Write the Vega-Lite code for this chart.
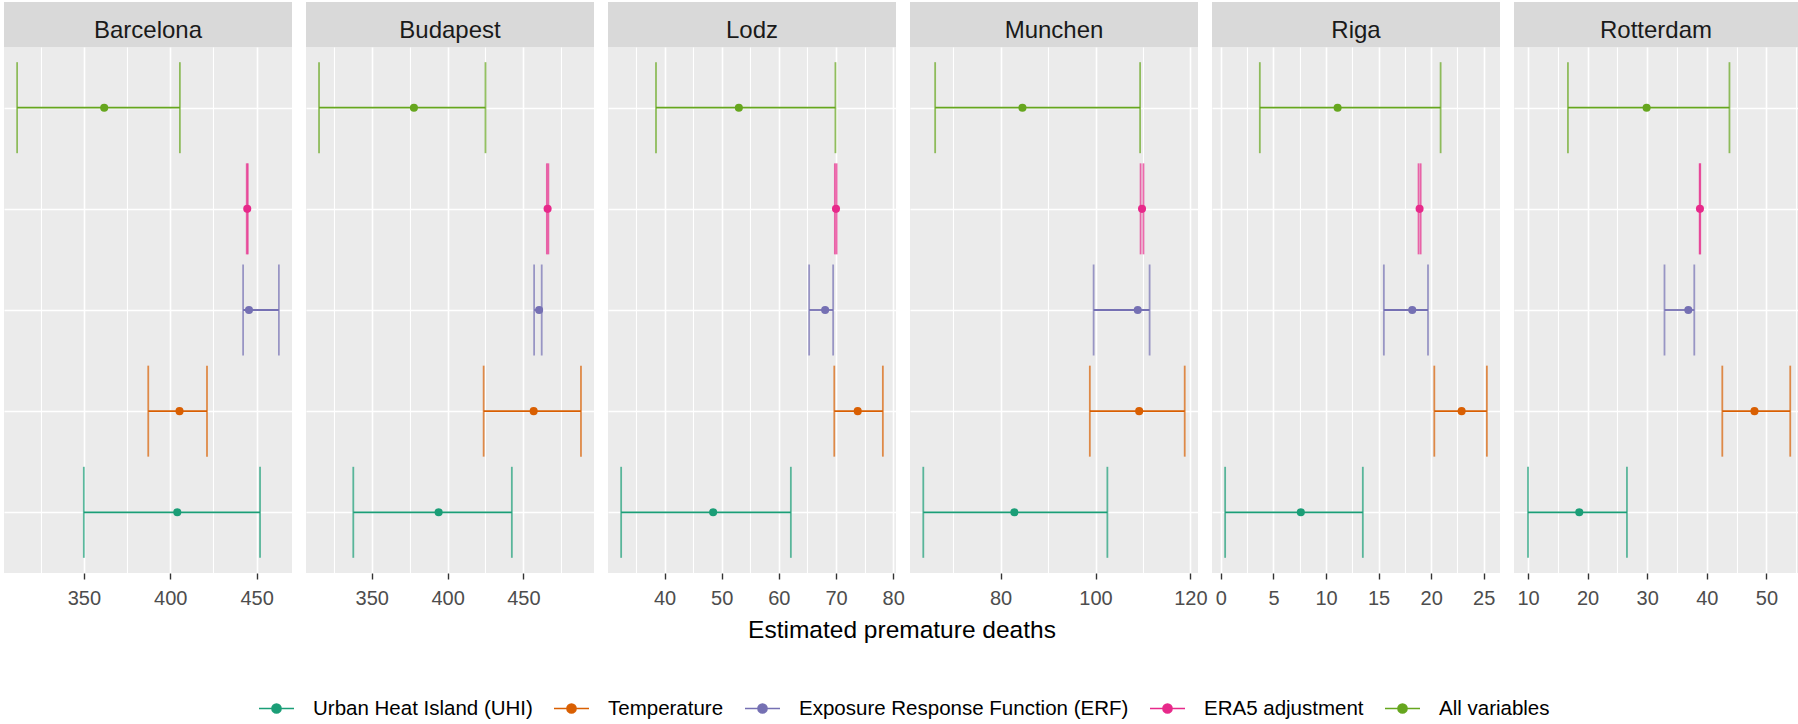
{
  "$schema": "https://vega.github.io/schema/vega-lite/v6.json",
  "padding": {"left": 4, "top": 2, "right": 0, "bottom": 0},
  "background": "white",
  "config": {
    "font": "Liberation Sans",
    "view": {"stroke": null},
    "axisX": {
      "domain": false,
      "gridColor": "white",
      "tickColor": "#333333",
      "tickWidth": 1.4,
      "tickSize": 6,
      "tickCount": 100,
      "labelColor": "#4D4D4D",
      "labelFontSize": 20,
      "labelPadding": 9,
      "labelFlush": false,
      "labelOverlap": false,
      "labelBound": false
    },
    "legend": {
      "orient": "none",
      "legendX": 254,
      "legendY": 688,
      "direction": "horizontal",
      "title": null,
      "labelFontSize": 20.5,
      "labelLimit": 0,
      "labelColor": "#000000",
      "symbolType": "M-1,0H1M-0.26,0A0.26,0.26,0,1,1,0.26,0A0.26,0.26,0,1,1,-0.26,0Z",
      "symbolSize": 1225,
      "symbolStrokeWidth": 1.6,
      "labelOffset": 18,
      "columnPadding": 17
    }
  },
  "data": {
    "values": [
      {"city": "Barcelona", "measure": "All variables", "low": 311.4, "est": 361.8, "high": 405.6},
      {"city": "Barcelona", "measure": "ERA5 adjustment", "low": 444.3, "est": 444.6, "high": 444.9},
      {"city": "Barcelona", "measure": "Exposure Response Function (ERF)", "low": 442.2, "est": 445.6, "high": 462.9},
      {"city": "Barcelona", "measure": "Temperature", "low": 387.3, "est": 405.4, "high": 421.3},
      {"city": "Barcelona", "measure": "Urban Heat Island (UHI)", "low": 350.0, "est": 404.1, "high": 452.0},
      {"city": "Budapest", "measure": "All variables", "low": 315.2, "est": 377.8, "high": 425.0},
      {"city": "Budapest", "measure": "ERA5 adjustment", "low": 465.5, "est": 466.0, "high": 466.5},
      {"city": "Budapest", "measure": "Exposure Response Function (ERF)", "low": 457.1, "est": 460.4, "high": 462.1},
      {"city": "Budapest", "measure": "Temperature", "low": 423.8, "est": 456.8, "high": 488.0},
      {"city": "Budapest", "measure": "Urban Heat Island (UHI)", "low": 337.8, "est": 394.1, "high": 442.4},
      {"city": "Lodz", "measure": "All variables", "low": 38.5, "est": 53.0, "high": 69.9},
      {"city": "Lodz", "measure": "ERA5 adjustment", "low": 69.8, "est": 70.0, "high": 70.1},
      {"city": "Lodz", "measure": "Exposure Response Function (ERF)", "low": 65.3, "est": 68.1, "high": 69.5},
      {"city": "Lodz", "measure": "Temperature", "low": 69.7, "est": 73.8, "high": 78.2},
      {"city": "Lodz", "measure": "Urban Heat Island (UHI)", "low": 32.4, "est": 48.5, "high": 62.1},
      {"city": "Munchen", "measure": "All variables", "low": 66.2, "est": 84.6, "high": 109.4},
      {"city": "Munchen", "measure": "ERA5 adjustment", "low": 109.5, "est": 109.8, "high": 110.1},
      {"city": "Munchen", "measure": "Exposure Response Function (ERF)", "low": 99.6, "est": 108.9, "high": 111.4},
      {"city": "Munchen", "measure": "Temperature", "low": 98.8, "est": 109.2, "high": 118.8},
      {"city": "Munchen", "measure": "Urban Heat Island (UHI)", "low": 63.7, "est": 82.9, "high": 102.5},
      {"city": "Riga", "measure": "All variables", "low": 3.7, "est": 11.1, "high": 20.9},
      {"city": "Riga", "measure": "ERA5 adjustment", "low": 18.8, "est": 18.9, "high": 19.0},
      {"city": "Riga", "measure": "Exposure Response Function (ERF)", "low": 15.5, "est": 18.2, "high": 19.7},
      {"city": "Riga", "measure": "Temperature", "low": 20.3, "est": 22.9, "high": 25.3},
      {"city": "Riga", "measure": "Urban Heat Island (UHI)", "low": 0.4, "est": 7.6, "high": 13.5},
      {"city": "Rotterdam", "measure": "All variables", "low": 16.7, "est": 29.9, "high": 43.8},
      {"city": "Rotterdam", "measure": "ERA5 adjustment", "low": 38.8, "est": 38.85, "high": 38.9},
      {"city": "Rotterdam", "measure": "Exposure Response Function (ERF)", "low": 32.9, "est": 36.9, "high": 37.9},
      {"city": "Rotterdam", "measure": "Temperature", "low": 42.6, "est": 48.0, "high": 54.0},
      {"city": "Rotterdam", "measure": "Urban Heat Island (UHI)", "low": 10.0, "est": 18.6, "high": 26.6}
    ]
  },
  "spacing": 0,
  "vconcat": [
    {
      "bounds": "flush",
      "spacing": 14,
      "hconcat": [
        {"width": 288, "height": 45, "view": {"fill": "#D9D9D9", "stroke": null},
         "transform": [{"filter": "datum.city === 'Barcelona' && datum.measure === 'All variables'"}],
         "mark": {"type": "text", "fontSize": 24, "color": "#1A1A1A", "baseline": "alphabetic", "align": "center", "dy": 13},
         "encoding": {"text": {"field": "city"}}},
        {"width": 288, "height": 45, "view": {"fill": "#D9D9D9", "stroke": null},
         "transform": [{"filter": "datum.city === 'Budapest' && datum.measure === 'All variables'"}],
         "mark": {"type": "text", "fontSize": 24, "color": "#1A1A1A", "baseline": "alphabetic", "align": "center", "dy": 13},
         "encoding": {"text": {"field": "city"}}},
        {"width": 288, "height": 45, "view": {"fill": "#D9D9D9", "stroke": null},
         "transform": [{"filter": "datum.city === 'Lodz' && datum.measure === 'All variables'"}],
         "mark": {"type": "text", "fontSize": 24, "color": "#1A1A1A", "baseline": "alphabetic", "align": "center", "dy": 13},
         "encoding": {"text": {"field": "city"}}},
        {"width": 288, "height": 45, "view": {"fill": "#D9D9D9", "stroke": null},
         "transform": [{"filter": "datum.city === 'Munchen' && datum.measure === 'All variables'"}],
         "mark": {"type": "text", "fontSize": 24, "color": "#1A1A1A", "baseline": "alphabetic", "align": "center", "dy": 13},
         "encoding": {"text": {"field": "city"}}},
        {"width": 288, "height": 45, "view": {"fill": "#D9D9D9", "stroke": null},
         "transform": [{"filter": "datum.city === 'Riga' && datum.measure === 'All variables'"}],
         "mark": {"type": "text", "fontSize": 24, "color": "#1A1A1A", "baseline": "alphabetic", "align": "center", "dy": 13},
         "encoding": {"text": {"field": "city"}}},
        {"width": 284, "height": 45, "view": {"fill": "#D9D9D9", "stroke": null},
         "transform": [{"filter": "datum.city === 'Rotterdam' && datum.measure === 'All variables'"}],
         "mark": {"type": "text", "fontSize": 24, "color": "#1A1A1A", "baseline": "alphabetic", "align": "center", "dy": 13},
         "encoding": {"text": {"field": "city"}}}
      ]
    },
    {
      "bounds": "flush",
      "spacing": 14,
      "hconcat": [
        {
          "width": 288, "height": 526,
          "view": {"fill": "#EBEBEB", "stroke": null},
          "transform": [{"filter": "datum.city === 'Barcelona'"}],
          "encoding": {
            "y": {"field": "measure", "type": "nominal", "scale": {"type": "point", "padding": 0.6, "domain": ["All variables", "ERA5 adjustment", "Exposure Response Function (ERF)", "Temperature", "Urban Heat Island (UHI)"]}, "axis": {"labels": false, "ticks": false, "domain": false, "title": null, "grid": true, "gridColor": "white", "gridWidth": 1.6}},
            "color": {"field": "measure", "type": "nominal", "scale": {"domain": ["Urban Heat Island (UHI)", "Temperature", "Exposure Response Function (ERF)", "ERA5 adjustment", "All variables"], "range": ["#1B9E77", "#D95F02", "#7570B3", "#E7298A", "#66A61E"]}, "legend": {"title": null, "encode": {"symbols": {"update": {"fill": {"scale": "color", "field": "value"}, "stroke": {"scale": "color", "field": "value"}, "strokeWidth": {"value": 1.6}, "opacity": {"value": 1}}}}}}
          },
          "layer": [
            {"mark": {"type": "rule", "strokeWidth": 1.8}, "encoding": {"x": {"field": "low", "type": "quantitative", "scale": {"domain": [303.8, 470.5], "nice": false, "zero": false}, "axis": {"title": null, "format": "d", "tickCount": 100, "values": [325, 350, 375, 400, 425, 450], "labelExpr": "datum.value % 50 === 0 ? datum.label : ''", "tickOpacity": {"condition": {"test": "datum.value % 50 === 0", "value": 1}, "value": 0}, "gridWidth": {"condition": {"test": "datum.value % 50 === 0", "value": 1.6}, "value": 1.1}}}, "x2": {"field": "high"}}},
            {"mark": {"type": "tick", "thickness": 1.8, "size": 91, "orient": "vertical"}, "encoding": {"x": {"field": "low", "type": "quantitative"}}},
            {"mark": {"type": "tick", "thickness": 1.8, "size": 91, "orient": "vertical"}, "encoding": {"x": {"field": "high", "type": "quantitative"}}},
            {"mark": {"type": "point", "filled": true, "size": 65, "opacity": 1}, "encoding": {"x": {"field": "est", "type": "quantitative"}}}
          ]
        },
        {
          "width": 288, "height": 526,
          "view": {"fill": "#EBEBEB", "stroke": null},
          "transform": [{"filter": "datum.city === 'Budapest'"}],
          "encoding": {
            "y": {"field": "measure", "type": "nominal", "scale": {"type": "point", "padding": 0.6, "domain": ["All variables", "ERA5 adjustment", "Exposure Response Function (ERF)", "Temperature", "Urban Heat Island (UHI)"]}, "axis": {"labels": false, "ticks": false, "domain": false, "title": null, "grid": true, "gridColor": "white", "gridWidth": 1.6}},
            "color": {"field": "measure", "type": "nominal", "scale": {"domain": ["Urban Heat Island (UHI)", "Temperature", "Exposure Response Function (ERF)", "ERA5 adjustment", "All variables"], "range": ["#1B9E77", "#D95F02", "#7570B3", "#E7298A", "#66A61E"]}, "legend": {"title": null, "encode": {"symbols": {"update": {"fill": {"scale": "color", "field": "value"}, "stroke": {"scale": "color", "field": "value"}, "strokeWidth": {"value": 1.6}, "opacity": {"value": 1}}}}}}
          },
          "layer": [
            {"mark": {"type": "rule", "strokeWidth": 1.8}, "encoding": {"x": {"field": "low", "type": "quantitative", "scale": {"domain": [306.6, 496.6], "nice": false, "zero": false}, "axis": {"title": null, "format": "d", "tickCount": 100, "values": [325, 350, 375, 400, 425, 450, 475], "labelExpr": "datum.value % 50 === 0 ? datum.label : ''", "tickOpacity": {"condition": {"test": "datum.value % 50 === 0", "value": 1}, "value": 0}, "gridWidth": {"condition": {"test": "datum.value % 50 === 0", "value": 1.6}, "value": 1.1}}}, "x2": {"field": "high"}}},
            {"mark": {"type": "tick", "thickness": 1.8, "size": 91, "orient": "vertical"}, "encoding": {"x": {"field": "low", "type": "quantitative"}}},
            {"mark": {"type": "tick", "thickness": 1.8, "size": 91, "orient": "vertical"}, "encoding": {"x": {"field": "high", "type": "quantitative"}}},
            {"mark": {"type": "point", "filled": true, "size": 65, "opacity": 1}, "encoding": {"x": {"field": "est", "type": "quantitative"}}}
          ]
        },
        {
          "width": 288, "height": 526,
          "view": {"fill": "#EBEBEB", "stroke": null},
          "transform": [{"filter": "datum.city === 'Lodz'"}],
          "encoding": {
            "y": {"field": "measure", "type": "nominal", "scale": {"type": "point", "padding": 0.6, "domain": ["All variables", "ERA5 adjustment", "Exposure Response Function (ERF)", "Temperature", "Urban Heat Island (UHI)"]}, "axis": {"labels": false, "ticks": false, "domain": false, "title": null, "grid": true, "gridColor": "white", "gridWidth": 1.6}},
            "color": {"field": "measure", "type": "nominal", "scale": {"domain": ["Urban Heat Island (UHI)", "Temperature", "Exposure Response Function (ERF)", "ERA5 adjustment", "All variables"], "range": ["#1B9E77", "#D95F02", "#7570B3", "#E7298A", "#66A61E"]}, "legend": {"title": null, "encode": {"symbols": {"update": {"fill": {"scale": "color", "field": "value"}, "stroke": {"scale": "color", "field": "value"}, "strokeWidth": {"value": 1.6}, "opacity": {"value": 1}}}}}}
          },
          "layer": [
            {"mark": {"type": "rule", "strokeWidth": 1.8}, "encoding": {"x": {"field": "low", "type": "quantitative", "scale": {"domain": [30.1, 80.5], "nice": false, "zero": false}, "axis": {"title": null, "format": "d", "tickCount": 100, "values": [35, 40, 45, 50, 55, 60, 65, 70, 75, 80], "labelExpr": "datum.value % 10 === 0 ? datum.label : ''", "tickOpacity": {"condition": {"test": "datum.value % 10 === 0", "value": 1}, "value": 0}, "gridWidth": {"condition": {"test": "datum.value % 10 === 0", "value": 1.6}, "value": 1.1}}}, "x2": {"field": "high"}}},
            {"mark": {"type": "tick", "thickness": 1.8, "size": 91, "orient": "vertical"}, "encoding": {"x": {"field": "low", "type": "quantitative"}}},
            {"mark": {"type": "tick", "thickness": 1.8, "size": 91, "orient": "vertical"}, "encoding": {"x": {"field": "high", "type": "quantitative"}}},
            {"mark": {"type": "point", "filled": true, "size": 65, "opacity": 1}, "encoding": {"x": {"field": "est", "type": "quantitative"}}}
          ]
        },
        {
          "width": 288, "height": 526,
          "view": {"fill": "#EBEBEB", "stroke": null},
          "transform": [{"filter": "datum.city === 'Munchen'"}],
          "encoding": {
            "y": {"field": "measure", "type": "nominal", "scale": {"type": "point", "padding": 0.6, "domain": ["All variables", "ERA5 adjustment", "Exposure Response Function (ERF)", "Temperature", "Urban Heat Island (UHI)"]}, "axis": {"labels": false, "ticks": false, "domain": false, "title": null, "grid": true, "gridColor": "white", "gridWidth": 1.6}},
            "color": {"field": "measure", "type": "nominal", "scale": {"domain": ["Urban Heat Island (UHI)", "Temperature", "Exposure Response Function (ERF)", "ERA5 adjustment", "All variables"], "range": ["#1B9E77", "#D95F02", "#7570B3", "#E7298A", "#66A61E"]}, "legend": {"title": null, "encode": {"symbols": {"update": {"fill": {"scale": "color", "field": "value"}, "stroke": {"scale": "color", "field": "value"}, "strokeWidth": {"value": 1.6}, "opacity": {"value": 1}}}}}}
          },
          "layer": [
            {"mark": {"type": "rule", "strokeWidth": 1.8}, "encoding": {"x": {"field": "low", "type": "quantitative", "scale": {"domain": [60.9, 121.6], "nice": false, "zero": false}, "axis": {"title": null, "format": "d", "tickCount": 100, "values": [70, 80, 90, 100, 110, 120], "labelExpr": "datum.value % 20 === 0 ? datum.label : ''", "tickOpacity": {"condition": {"test": "datum.value % 20 === 0", "value": 1}, "value": 0}, "gridWidth": {"condition": {"test": "datum.value % 20 === 0", "value": 1.6}, "value": 1.1}}}, "x2": {"field": "high"}}},
            {"mark": {"type": "tick", "thickness": 1.8, "size": 91, "orient": "vertical"}, "encoding": {"x": {"field": "low", "type": "quantitative"}}},
            {"mark": {"type": "tick", "thickness": 1.8, "size": 91, "orient": "vertical"}, "encoding": {"x": {"field": "high", "type": "quantitative"}}},
            {"mark": {"type": "point", "filled": true, "size": 65, "opacity": 1}, "encoding": {"x": {"field": "est", "type": "quantitative"}}}
          ]
        },
        {
          "width": 288, "height": 526,
          "view": {"fill": "#EBEBEB", "stroke": null},
          "transform": [{"filter": "datum.city === 'Riga'"}],
          "encoding": {
            "y": {"field": "measure", "type": "nominal", "scale": {"type": "point", "padding": 0.6, "domain": ["All variables", "ERA5 adjustment", "Exposure Response Function (ERF)", "Temperature", "Urban Heat Island (UHI)"]}, "axis": {"labels": false, "ticks": false, "domain": false, "title": null, "grid": true, "gridColor": "white", "gridWidth": 1.6}},
            "color": {"field": "measure", "type": "nominal", "scale": {"domain": ["Urban Heat Island (UHI)", "Temperature", "Exposure Response Function (ERF)", "ERA5 adjustment", "All variables"], "range": ["#1B9E77", "#D95F02", "#7570B3", "#E7298A", "#66A61E"]}, "legend": {"title": null, "encode": {"symbols": {"update": {"fill": {"scale": "color", "field": "value"}, "stroke": {"scale": "color", "field": "value"}, "strokeWidth": {"value": 1.6}, "opacity": {"value": 1}}}}}}
          },
          "layer": [
            {"mark": {"type": "rule", "strokeWidth": 1.8}, "encoding": {"x": {"field": "low", "type": "quantitative", "scale": {"domain": [-0.85, 26.55], "nice": false, "zero": false}, "axis": {"title": null, "format": "d", "tickCount": 100, "values": [0, 2.5, 5, 7.5, 10, 12.5, 15, 17.5, 20, 22.5, 25], "labelExpr": "datum.value % 5 === 0 ? datum.label : ''", "tickOpacity": {"condition": {"test": "datum.value % 5 === 0", "value": 1}, "value": 0}, "gridWidth": {"condition": {"test": "datum.value % 5 === 0", "value": 1.6}, "value": 1.1}}}, "x2": {"field": "high"}}},
            {"mark": {"type": "tick", "thickness": 1.8, "size": 91, "orient": "vertical"}, "encoding": {"x": {"field": "low", "type": "quantitative"}}},
            {"mark": {"type": "tick", "thickness": 1.8, "size": 91, "orient": "vertical"}, "encoding": {"x": {"field": "high", "type": "quantitative"}}},
            {"mark": {"type": "point", "filled": true, "size": 65, "opacity": 1}, "encoding": {"x": {"field": "est", "type": "quantitative"}}}
          ]
        },
        {
          "width": 284, "height": 526,
          "view": {"fill": "#EBEBEB", "stroke": null},
          "transform": [{"filter": "datum.city === 'Rotterdam'"}],
          "encoding": {
            "y": {"field": "measure", "type": "nominal", "scale": {"type": "point", "padding": 0.6, "domain": ["All variables", "ERA5 adjustment", "Exposure Response Function (ERF)", "Temperature", "Urban Heat Island (UHI)"]}, "axis": {"labels": false, "ticks": false, "domain": false, "title": null, "grid": true, "gridColor": "white", "gridWidth": 1.6}},
            "color": {"field": "measure", "type": "nominal", "scale": {"domain": ["Urban Heat Island (UHI)", "Temperature", "Exposure Response Function (ERF)", "ERA5 adjustment", "All variables"], "range": ["#1B9E77", "#D95F02", "#7570B3", "#E7298A", "#66A61E"]}, "legend": {"title": null, "encode": {"symbols": {"update": {"fill": {"scale": "color", "field": "value"}, "stroke": {"scale": "color", "field": "value"}, "strokeWidth": {"value": 1.6}, "opacity": {"value": 1}}}}}}
          },
          "layer": [
            {"mark": {"type": "rule", "strokeWidth": 1.8}, "encoding": {"x": {"field": "low", "type": "quantitative", "scale": {"domain": [7.65, 55.3], "nice": false, "zero": false}, "axis": {"title": null, "format": "d", "tickCount": 100, "values": [10, 15, 20, 25, 30, 35, 40, 45, 50, 55], "labelExpr": "datum.value % 10 === 0 ? datum.label : ''", "tickOpacity": {"condition": {"test": "datum.value % 10 === 0", "value": 1}, "value": 0}, "gridWidth": {"condition": {"test": "datum.value % 10 === 0", "value": 1.6}, "value": 1.1}}}, "x2": {"field": "high"}}},
            {"mark": {"type": "tick", "thickness": 1.8, "size": 91, "orient": "vertical"}, "encoding": {"x": {"field": "low", "type": "quantitative"}}},
            {"mark": {"type": "tick", "thickness": 1.8, "size": 91, "orient": "vertical"}, "encoding": {"x": {"field": "high", "type": "quantitative"}}},
            {"mark": {"type": "point", "filled": true, "size": 65, "opacity": 1}, "encoding": {"x": {"field": "est", "type": "quantitative"}}}
          ]
        }
      ]
    },
    {
      "width": 1790, "height": 44,
      "view": {"fill": null, "stroke": null},
      "transform": [{"filter": "datum.city === 'Lodz' && datum.measure === 'All variables'"}],
      "mark": {"type": "text", "fontSize": 24.5, "color": "#000000", "baseline": "alphabetic", "align": "center", "dx": 3, "dy": 8},
      "encoding": {"text": {"value": "Estimated premature deaths"}}
    }
  ]
}
